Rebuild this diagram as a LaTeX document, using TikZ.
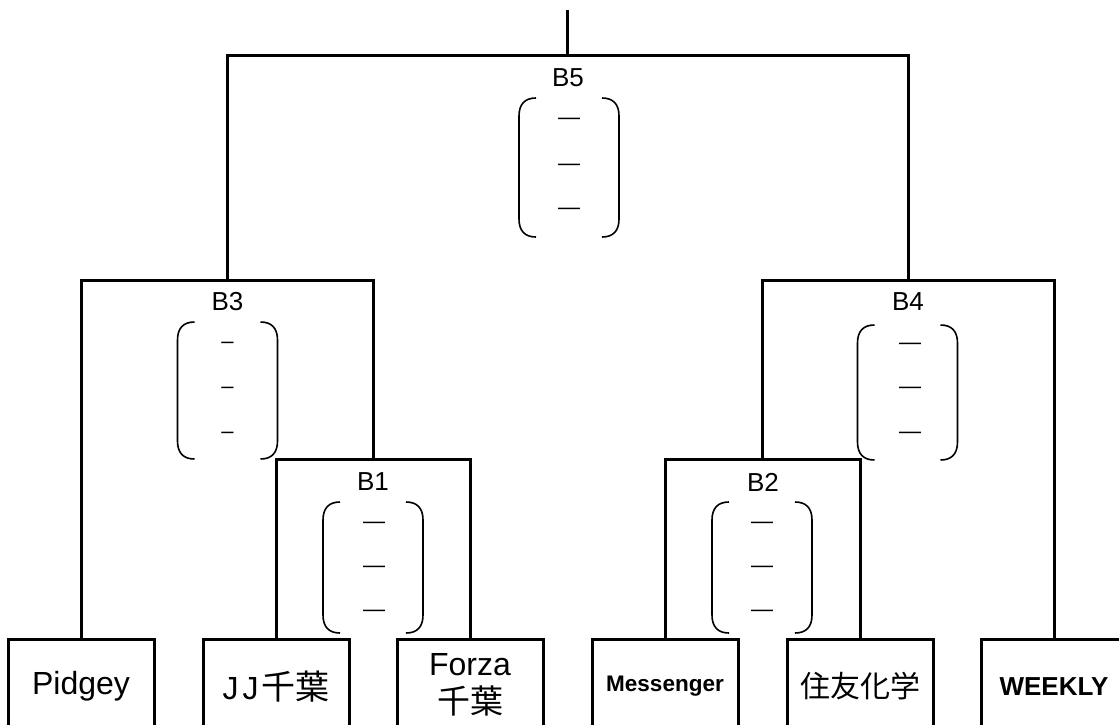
\documentclass[tikz,border=0pt]{standalone}
\usepackage{fontspec}
\setmainfont{Liberation Sans}
\newfontfamily\jpfont{Noto Sans CJK JP}
\newcommand\parpair[4]{% cx, top, bottom, halfwidth
  \draw[bracketline] ({#1-#4+17},#2) .. controls ({#1-#4+6},#2) and ({#1-#4},{#2+6}) .. ({#1-#4},{#2+18})
     -- ({#1-#4},{#3-18}) .. controls ({#1-#4},{#3-6}) and ({#1-#4+6},#3) .. ({#1-#4+17},#3);
  \draw[bracketline] ({#1+#4-17},#2) .. controls ({#1+#4-6},#2) and ({#1+#4},{#2+6}) .. ({#1+#4},{#2+18})
     -- ({#1+#4},{#3-18}) .. controls ({#1+#4},{#3-6}) and ({#1+#4-6},#3) .. ({#1+#4-17},#3);
}
\begin{document}
\begin{tikzpicture}[x=1pt,y=-1pt,
  wire/.style={line width=3pt},
  bracketline/.style={line width=1.6pt},
  team/.style={draw,line width=3pt,minimum width=146pt,minimum height=94pt,anchor=north,
     inner sep=0pt,align=center,font=\fontsize{32}{36}\selectfont},
  mlabel/.style={font=\fontsize{26}{28}\selectfont,inner sep=0pt},
  longdash/.style={font=\fontsize{22}{24}\selectfont,inner sep=0pt},
  shortdash/.style={font=\fontsize{22}{24}\selectfont,inner sep=0pt}]
\useasboundingbox (0,0) rectangle (1119,724);
\clip (0,0) rectangle (1119,724);

% teams
\node[team] (pidgey) at (81,638) {Pidgey};
\node[team] (jj) at (276,638) {J\hspace{4pt}J\hspace{3pt}{\jpfont\fontsize{34}{36}\selectfont 千葉}};
\node[team,minimum height=90pt] (forza) at (470,638) {Forza\\[2pt]{\jpfont\fontsize{33}{36}\selectfont 千葉}};
\node[team,font=\fontsize{22.5}{26}\selectfont\bfseries] (messenger) at (665,638) {Messenger};
\node[team,font=\fontsize{30}{34}\selectfont\jpfont] (sumitomo) at (860,638) {住友化学};
\node[team,font=\fontsize{26}{30}\selectfont\bfseries] (weekly) at (1054,638) {WEEKLY};

% junctions
\coordinate (j1) at (373.5,459);
\coordinate (j2) at (762.5,459);
\coordinate (j3) at (227.5,280);
\coordinate (j4) at (908,280);
\coordinate (j5) at (567.5,55);
\coordinate (top) at (567.5,10);

\draw[wire] (jj.north) |- (j1) -| (forza.north);
\draw[wire] (messenger.north) |- (j2) -| (sumitomo.north);
\draw[wire] (pidgey.north) |- (j3) -| (j1);
\draw[wire] (j2) |- (j4) -| (weekly.north);
\draw[wire] (j3) |- (j5) -| (j4);
\draw[wire] (top) -- (j5);

% match labels
\node[mlabel] (lb5) at (568,78) {B5};
\node[mlabel] (lb3) at (227.5,302) {B3};
\node[mlabel] (lb4) at (908,302) {B4};
\node[mlabel] (lb1) at (373,482) {B1};
\node[mlabel] (lb2) at (763,482) {B2};

% brackets
\parpair{569}{98}{237}{50}
\parpair{227.5}{322}{459}{50}
\parpair{907.5}{325}{460}{50}
\parpair{373}{502}{633}{50}
\parpair{762}{502}{633}{50}

% scores
\node[longdash] (s5a) at (569,121) {—};
\node[longdash] (s5b) at (569,167) {—};
\node[longdash] (s5c) at (569,211) {—};
\node[shortdash] (s3a) at (227.5,345) {–};
\node[shortdash] (s3b) at (227.5,390) {–};
\node[shortdash] (s3c) at (227.5,435) {–};
\node[longdash] (s4a) at (910,346) {—};
\node[longdash] (s4b) at (910,390) {—};
\node[longdash] (s4c) at (910,435) {—};
\node[longdash] (s1a) at (374,525) {—};
\node[longdash] (s1b) at (374,569) {—};
\node[longdash] (s1c) at (374,613) {—};
\node[longdash] (s2a) at (762,525) {—};
\node[longdash] (s2b) at (762,569) {—};
\node[longdash] (s2c) at (762,613) {—};
\end{tikzpicture}
\end{document}
